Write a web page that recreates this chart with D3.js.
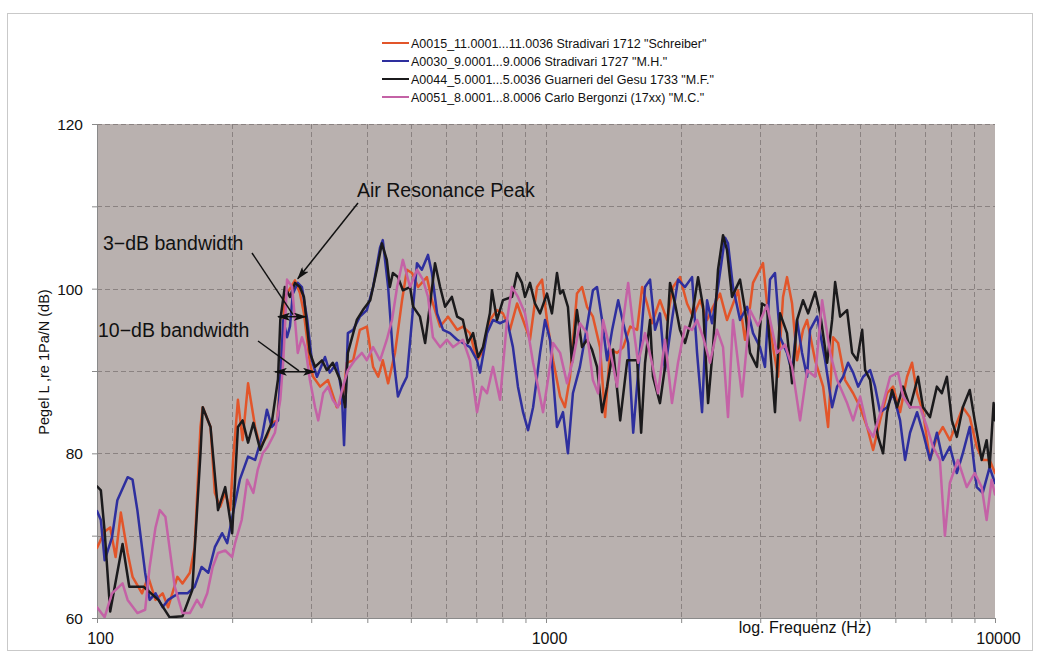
<!DOCTYPE html>
<html>
<head>
<meta charset="utf-8">
<script src="https://cdn.jsdelivr.net/npm/d3@7"></script>
<style>
  body { margin: 0; background: #ffffff; }
  svg { display: block; }
  text { font-family: "Liberation Sans", Arial, Helvetica, sans-serif; fill: #111; }
</style>
</head>
<body>
<svg id="chart" width="1042" height="654"></svg>
<script>
// ---- Series: [frequency in Hz, level in dB] ----
const seriesNames = [
  'A0015_11.0001...11.0036 Stradivari 1712 "Schreiber"',
  'A0030_9.0001...9.0006 Stradivari 1727 "M.H."',
  'A0044_5.0001...5.0036 Guarneri del Gesu 1733 "M.F."',
  'A0051_8.0001...8.0006 Carlo Bergonzi (17xx) "M.C."'
];
const seriesColors = ["#e2552a", "#2e2f9e", "#1b1a1c", "#c462a6"];

const schreiber1712 = [
  [100,68.5],[104,70.5],[107,71],[110,67.4],[113,72.8],[117,67.9],[120,65],[126,63],[130,65],[135,62.2],
  [140,63],[144,61.3],[151,65],[155,64.2],[161,65.5],[165,68.6],[170,83.2],[172,85.6],[179,83.2],[183,75.2],
  [188,73.5],[193,75.2],[198,73.1],[201,79.2],[206,86.5],[211,81.6],[217,88.5],[225,83.2],[231,80.8],[239,82],
  [245,83.7],[252,84],[256,88.9],[262,99],[269,100],[276,101],[283,99.5],[289,97],[298,91],[303,89.3],
  [314,88.1],[327,88.9],[342,85.6],[353,86.5],[360,91],[372,91.3],[385,95],[399,95.4],[412,90.5],[423,89.3],
  [433,91.3],[445,88.5],[461,92.2],[478,98.6],[490,102.3],[503,101.9],[519,100.2],[543,101.4],[557,98.6],[581,95.4],
  [605,96.6],[634,95],[653,95.4],[677,94.6],[702,91.3],[720,92.2],[750,96.2],[778,97.4],[802,97],[831,95],
  [862,98.2],[889,96.2],[921,93.8],[955,100.2],[980,101.1],[1005,96.2],[1037,91.3],[1075,86.9],[1102,85.6],[1131,89.3],
  [1172,99.4],[1203,100.2],[1234,97.8],[1272,96.6],[1319,92.9],[1354,84.4],[1389,92.6],[1440,92.2],[1486,92.9],[1540,95.4],
  [1596,95],[1637,100.2],[1679,98.2],[1722,95.8],[1794,98.6],[1860,96.2],[1918,100.2],[1988,101.4],[2061,98.2],[2126,96.6],
  [2204,98.6],[2284,96.2],[2355,97.8],[2441,99.4],[2530,96.2],[2677,99.8],[2775,93.8],[2847,97.8],[2891,100.7],[3043,103.1],
  [3106,98.2],[3203,92.9],[3287,89.3],[3372,99],[3442,101.4],[3532,98.2],[3624,91.3],[3737,95],[3815,96.2],[3976,91.3],
  [4142,88.1],[4249,83.2],[4360,94.1],[4473,93.4],[4636,88.9],[4831,87.3],[5008,85.6],[5191,83.2],[5352,80.4],[5547,84],
  [5750,87.3],[5929,88.1],[6146,85],[6370,89.3],[6535,91],[6705,87.3],[6914,85],[7164,79.2],[7423,82],[7654,83.2],
  [7934,81.6],[8222,83.7],[8478,85.6],[8785,84.4],[9105,80.8],[9388,79.2],[9728,79.2],[10000,77.6]
];

const stradivari1727 = [
  [100,73],[102,71.9],[104,67],[108,69.8],[111,74.3],[117,77.1],[120,76.8],[123,73.1],[128,65.5],[131,62.2],
  [135,63],[140,61.3],[144,62.2],[152,63],[159,63],[165,63.8],[171,66.2],[177,65.5],[183,68.6],[190,70.3],
  [195,69.1],[201,72.8],[208,76.8],[217,79.6],[225,79.2],[233,82],[239,85.3],[245,83.2],[253,84],[260,96.2],
  [265,94.1],[269,95.4],[273,99.4],[280,100.7],[286,100.2],[294,96.2],[301,91.3],[309,89.3],[322,91.7],[330,89.8],
  [342,91],[351,87.3],[355,81],[362,94.6],[372,95],[385,96.6],[399,97.4],[412,100.2],[427,105],[433,105.9],
  [445,100.2],[456,92.2],[468,86.9],[478,88.1],[490,89.3],[503,96.2],[516,103.1],[529,102.3],[546,104.1],[557,101.9],
  [572,97],[590,95],[611,94.6],[634,93.8],[653,93.4],[677,92.9],[702,91.3],[713,89.8],[739,94.6],[762,96.2],
  [790,95.8],[819,96.2],[844,92.9],[866,88.1],[889,85],[912,82.8],[936,85.6],[970,92.2],[995,96.2],[1021,93.8],
  [1058,83.2],[1091,85],[1119,80],[1148,87.3],[1190,90.5],[1234,95.4],[1272,99.8],[1299,100.2],[1333,96.2],[1368,91.3],
  [1404,95],[1448,98.6],[1486,95.8],[1524,93.4],[1564,82.5],[1604,89.8],[1662,100.2],[1705,101.1],[1749,95],[1794,97],
  [1841,90.1],[1908,96.2],[1968,101.1],[2040,100.2],[2115,101.4],[2170,92.2],[2226,85],[2284,98.6],[2343,95.8],[2416,100.2],
  [2504,106.2],[2543,105.5],[2609,100.2],[2705,96.2],[2804,97.8],[2891,94.6],[2996,92.9],[3074,90.5],[3154,101.1],[3236,101.9],
  [3321,94.1],[3442,92.2],[3532,89.8],[3624,96.2],[3718,92.2],[3815,89.3],[3874,95],[4017,96.6],[4185,91.3],[4338,85.6],
  [4450,88.1],[4589,89.3],[4708,91],[4831,89.8],[4957,88.1],[5086,89.3],[5271,90.1],[5407,88.1],[5547,85],[5750,85.6],
  [5929,87.3],[6146,84],[6305,79.2],[6468,82.5],[6705,85],[6914,82.5],[7164,79.2],[7423,82.5],[7654,79.2],[7934,80.8],
  [8222,77.6],[8478,80],[8785,83.2],[9105,75.9],[9388,75.2],[9728,78.3],[10000,76.4]
];

const guarneri1733 = [
  [100,76],[102,75.5],[104,70.5],[107,60.8],[114,69],[118,63.8],[127,63.8],[137,62.2],[145,60.1],[155,60.2],
  [163,63.4],[170,80],[172,85.6],[179,83.2],[186,73.1],[193,75.9],[200,70.3],[206,83.2],[211,84],[217,81.3],
  [223,83.7],[231,80.4],[245,83.7],[253,89],[256,96.2],[262,100.2],[269,99],[276,100.7],[283,100.2],[289,99],
  [298,92.2],[306,90.5],[317,91.3],[325,90.1],[335,91],[348,88.9],[357,85.6],[362,92.2],[379,96.2],[391,97.4],
  [406,98.6],[420,102.3],[431,105.5],[442,103.5],[449,100.2],[456,101.9],[468,101.4],[480,99.8],[498,100.2],[506,97.8],
  [524,96.6],[538,93.4],[552,98.2],[566,103.1],[581,100.2],[596,97.8],[617,99],[634,96.6],[653,96.2],[670,93.4],
  [688,94.6],[706,91.7],[724,92.9],[750,97],[758,99.8],[778,96.2],[802,98.6],[840,99],[862,101.9],[884,100.7],
  [898,99],[921,100.7],[945,98.2],[970,97],[1005,99.4],[1031,97],[1058,101.9],[1075,99.4],[1091,99.8],[1119,97.8],
  [1142,91],[1172,97.4],[1203,92.9],[1234,93.8],[1266,92.6],[1299,90.5],[1333,85],[1368,88.1],[1411,92.6],[1463,84],
  [1517,91.3],[1596,91.3],[1629,82.5],[1662,91],[1705,96.2],[1731,89.3],[1794,86.1],[1841,90.5],[1889,100.7],[1938,98.2],
  [1988,95],[2040,93.4],[2115,96.6],[2181,101.4],[2238,97.8],[2296,86.1],[2355,92.9],[2416,102.3],[2479,106.5],[2530,104.7],
  [2596,99],[2705,101.1],[2775,97.4],[2847,92.2],[2950,90.5],[3027,98.2],[3106,97.8],[3236,85],[3321,97],[3442,94.6],
  [3532,88.5],[3624,96.2],[3737,98.6],[3835,97],[3976,99.6],[4079,97],[4228,91],[4338,96.2],[4405,100.8],[4519,96.6],
  [4684,97.4],[4806,92.2],[4932,91.3],[5060,95],[5138,90.1],[5271,88.9],[5407,84],[5491,82],[5633,80],[5750,85],
  [5899,87.7],[6052,85.6],[6241,88.1],[6468,85.6],[6740,89.3],[6914,85.6],[7164,84.4],[7423,88.1],[7615,87.3],[7813,89.3],
  [8015,84],[8222,82],[8478,85.6],[8785,87.7],[9012,84],[9340,79.2],[9580,81.6],[9728,78.3],[9929,86.1],[10000,84]
];

const bergonzi17xx = [
  [100,61.3],[104,60.1],[108,63],[114,64.2],[117,62.2],[123,60.6],[128,61],[131,66.2],[135,71],[138,73.1],
  [142,72.3],[145,68.6],[149,63.8],[155,60.6],[161,60.6],[167,62.2],[171,61.3],[176,63],[181,66.2],[186,67.9],
  [193,68.2],[200,67.4],[203,69.1],[210,71.9],[216,76.8],[223,75.2],[228,78],[234,80],[240,80.8],[249,82.5],
  [256,86.5],[260,91.3],[262,95],[265,101.1],[272,100.2],[276,96.2],[280,92.2],[286,94.1],[291,92.9],[298,88.9],
  [306,85.6],[311,84],[319,87.3],[327,88.1],[335,86.5],[344,85.6],[353,88.1],[362,90.1],[375,91.3],[389,92.2],
  [399,91.3],[412,92.9],[427,91.3],[442,93.8],[454,96.2],[466,100.2],[480,103.5],[498,100.2],[516,102.3],[532,101.1],
  [546,99],[560,94.1],[581,92.9],[602,93.8],[621,92.9],[653,93.8],[677,91.3],[702,85],[720,88.1],[739,87.3],
  [762,90.5],[790,86.5],[819,96.2],[840,100.2],[866,99],[898,97],[936,91],[960,88.1],[985,85],[1010,88.9],
  [1037,93.4],[1075,92.2],[1114,88.5],[1148,91.3],[1190,95.8],[1234,94.6],[1272,88.9],[1306,87.3],[1340,96.2],[1389,92.6],
  [1440,88.1],[1486,96.2],[1524,100.7],[1564,95.4],[1604,91],[1662,94.6],[1722,91],[1776,87.3],[1841,93.8],[1908,86.1],
  [1968,91],[2040,95.4],[2115,95],[2170,96.2],[2238,94.1],[2319,91],[2404,95],[2479,92.9],[2543,84.4],[2609,96.2],
  [2733,86.9],[2847,97.4],[2966,95.5],[3106,98],[3270,92.2],[3407,93.2],[3532,90.5],[3680,84],[3815,90.1],[3976,89.3],
  [4121,98.6],[4293,92.2],[4450,88.9],[4684,86.1],[4831,84],[5008,86.9],[5191,83.2],[5352,82],[5604,85.6],[5839,89.3],
  [6083,89.8],[6241,86.9],[6468,85.6],[6809,85.6],[7055,83.2],[7275,80.8],[7538,79.2],[7734,70],[7934,76.4],[8265,79.2],
  [8651,75.9],[9012,77.6],[9340,75.9],[9580,71.9],[9828,76.8],[10000,75]
];

const seriesData = [schreiber1712, stradivari1727, guarneri1733, bergonzi17xx];

// ---- Axes ----
const yTickValues = [60, 80, 100, 120];
const yGridValues = [70, 80, 90, 100, 110];
const xTickLabelValues = [100, 1000, 10000];
const xGridValues = [200, 300, 400, 500, 600, 700, 800, 900, 1000,
                     2000, 3000, 4000, 5000, 6000, 7000, 8000, 9000];
const xAxisTitle = "log. Frequenz (Hz)";
const yAxisTitle = "Pegel L ,re 1Pa/N (dB)";

// ---- Annotations (in data units) ----
const airPeak = { text: "Air Resonance Peak", tipHz: 280, tipDb: 101.2 };
const band3dB = { text: "3\u2212dB bandwidth", fromHz: 253, toHz: 292, db: 96.6 };
const band10dB = { text: "10\u2212dB bandwidth", fromHz: 249, toHz: 306, db: 89.9 };

// ---- Layout ----
const plot = { left: 97, right: 995, top: 124, bottom: 618 };

const svg = d3.select("#chart");

const x = d3.scaleLog().domain([100, 10000]).range([plot.left, plot.right]);
const y = d3.scaleLinear().domain([60, 120]).range([plot.bottom, plot.top]);

// outer frame
svg.append("rect")
  .attr("x", 7.5).attr("y", 13.5).attr("width", 1025).attr("height", 637)
  .attr("fill", "#ffffff").attr("stroke", "#c9c9c9").attr("stroke-width", 1);

// plot background
svg.append("rect")
  .attr("x", plot.left).attr("y", plot.top)
  .attr("width", plot.right - plot.left).attr("height", plot.bottom - plot.top)
  .attr("fill", "#b9b1af");

// grid lines
const grid = svg.append("g").attr("stroke", "#8a8281").attr("stroke-width", 1)
  .attr("stroke-dasharray", "5,3").attr("fill", "none");
grid.selectAll("line.gy").data(yGridValues.concat([120])).join("line")
  .attr("class", "gy")
  .attr("x1", plot.left).attr("x2", plot.right)
  .attr("y1", d => Math.round(y(d)) + 0.5).attr("y2", d => Math.round(y(d)) + 0.5);
grid.selectAll("line.gx").data(xGridValues).join("line")
  .attr("class", "gx")
  .attr("y1", plot.top).attr("y2", plot.bottom)
  .attr("x1", d => Math.round(x(d)) + 0.5).attr("x2", d => Math.round(x(d)) + 0.5);

// y axis
const yAxis = d3.axisLeft(y)
  .tickValues(d3.range(60, 121, 10))
  .tickSize(5)
  .tickFormat(d => yTickValues.includes(d) ? d : "");
const gy = svg.append("g").attr("transform", `translate(${plot.left},0)`).call(yAxis);
gy.select(".domain").attr("stroke", "#8a8a8a");
gy.selectAll(".tick line").attr("stroke", "#8a8a8a");
gy.selectAll(".tick text")
  .attr("x", -14).attr("dy", "0.36em")
  .style("font-size", "15.5px").style("font-family", '"Liberation Sans", Arial, sans-serif')
  .attr("fill", "#111");

// x axis
const xAxis = d3.axisBottom(x)
  .tickValues([100].concat(xGridValues, [10000]))
  .tickSize(5)
  .tickFormat(d => xTickLabelValues.includes(d) ? d : "");
const gx = svg.append("g").attr("transform", `translate(0,${plot.bottom})`).call(xAxis);
gx.select(".domain").attr("stroke", "#8a8a8a");
gx.selectAll(".tick line").attr("stroke", "#8a8a8a");
gx.selectAll(".tick text")
  .attr("y", 15).attr("dx", 3)
  .style("font-size", "16px").style("font-family", '"Liberation Sans", Arial, sans-serif')
  .attr("fill", "#111");

// axis titles
svg.append("text")
  .attr("x", 805).attr("y", 633).attr("text-anchor", "middle")
  .style("font-size", "16px").text(xAxisTitle);
svg.append("text")
  .attr("transform", "translate(49,362) rotate(-90)")
  .attr("text-anchor", "middle")
  .style("font-size", "14.5px").text(yAxisTitle);

// curves
svg.append("clipPath").attr("id", "plotClip")
  .append("rect").attr("x", plot.left).attr("y", plot.top)
  .attr("width", plot.right - plot.left).attr("height", plot.bottom - plot.top);

const line = d3.line().x(d => x(d[0])).y(d => y(d[1]));
svg.append("g").attr("clip-path", "url(#plotClip)")
  .selectAll("path").data(seriesData).join("path")
  .attr("d", line)
  .attr("fill", "none")
  .attr("stroke", (d, i) => seriesColors[i])
  .attr("stroke-width", 2.5)
  .attr("stroke-linejoin", "round")
  .attr("stroke-linecap", "round");

// legend
const legend = svg.append("g");
seriesNames.forEach((name, i) => {
  const ly = 43 + i * 18;
  legend.append("line")
    .attr("x1", 382).attr("x2", 409).attr("y1", ly).attr("y2", ly)
    .attr("stroke", seriesColors[i]).attr("stroke-width", 2);
  legend.append("text")
    .attr("x", 411).attr("y", ly + 4.5)
    .style("font-size", "12.5px").text(name);
});

// annotations
const defs = svg.append("defs");
defs.append("marker").attr("id", "arrowHead")
  .attr("viewBox", "0 0 13 8").attr("refX", 12).attr("refY", 4)
  .attr("markerWidth", 13).attr("markerHeight", 8)
  .attr("markerUnits", "userSpaceOnUse")
  .attr("orient", "auto-start-reverse")
  .append("path").attr("d", "M0,0 L13,4 L0,8 L3,4 Z").attr("fill", "#111");

const ann = svg.append("g").attr("stroke", "#111").attr("stroke-width", 1.5).attr("fill", "none");

// air resonance arrow
ann.append("line")
  .attr("x1", 358).attr("y1", 203)
  .attr("x2", x(airPeak.tipHz)).attr("y2", y(airPeak.tipDb))
  .attr("marker-end", "url(#arrowHead)");

// bandwidth double arrows
[band3dB, band10dB].forEach(b => {
  ann.append("line")
    .attr("x1", x(b.fromHz)).attr("x2", x(b.toHz))
    .attr("y1", y(b.db)).attr("y2", y(b.db))
    .attr("marker-start", "url(#arrowHead)")
    .attr("marker-end", "url(#arrowHead)");
});

// pointer lines from labels to arrows
ann.append("line").attr("x1", 252).attr("y1", 253)
  .attr("x2", (x(band3dB.fromHz) + x(band3dB.toHz)) / 2 + 1).attr("y2", y(band3dB.db) - 2);
ann.append("line").attr("x1", 258).attr("y1", 341)
  .attr("x2", (x(band10dB.fromHz) + x(band10dB.toHz)) / 2 + 4).attr("y2", y(band10dB.db) - 1);

const annText = svg.append("g").style("font-size", "19.5px");
annText.append("text").attr("x", 357).attr("y", 197).text(airPeak.text);
annText.append("text").attr("x", 103).attr("y", 250).text(band3dB.text);
annText.append("text").attr("x", 98).attr("y", 337).text(band10dB.text);
</script>
</body>
</html>
